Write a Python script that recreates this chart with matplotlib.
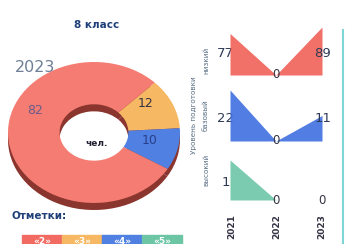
import matplotlib
matplotlib.use("Agg")
import matplotlib.pyplot as plt
from matplotlib.patches import Rectangle

# data
grade_title = "8 класс"
donut_year = "2023"
donut_values = [12, 10, 82]            # «3», «4», «2»
donut_colors = ["#f6b862", "#4f80e2", "#f47c72"]
years = [2021, 2022, 2023]
low_level = [77, 0, 89]
base_level = [22, 0, 11]
high_level = [1, 0, 0]
level_names = ["низкий", "базовый", "высокий"]
marks = ["«2»", "«3»", "«4»", "«5»"]
mark_colors = ["#f26b62", "#f6b862", "#4f80e2", "#6cc6a6"]

W, H = 346, 244
fig = plt.figure(figsize=(W / 100, H / 100), dpi=100)
fig.patch.set_facecolor("white")


def fx(x):
    return x / W


def fy(y):
    return 1 - y / H


navy = "#1f3f78"
gray = "#5a6f85"

fig.text(fx(97), fy(25), grade_title, ha="center", va="center",
         fontsize=7.5, fontweight="bold", color=navy)

# donut with a dark rim under it
ax = fig.add_axes([fx(8), fy(210), fx(172), (210 - 62) / H])
ax.pie(donut_values, colors=["#8a352d"] * 3, startangle=45, counterclock=False,
       radius=1, center=(0, -0.1), wedgeprops=dict(width=0.6, edgecolor="none"),
       frame=True)
ax.pie(donut_values, colors=donut_colors, startangle=45, counterclock=False,
       radius=1, center=(0, 0), wedgeprops=dict(width=0.6, edgecolor="none"),
       frame=True)
ax.set_xlim(-1, 1)
ax.set_ylim(-1.1, 1)
ax.set_aspect("auto")
ax.axis("off")

fig.text(fx(35), fy(68), donut_year, ha="center", va="center",
         fontsize=11.5, color="#6e7f95")
fig.text(fx(35), fy(110), str(donut_values[2]), ha="center", va="center",
         fontsize=9, color="#6a5a8c")
fig.text(fx(146), fy(103), str(donut_values[0]), ha="center", va="center",
         fontsize=9, color="#333344")
fig.text(fx(150), fy(140), str(donut_values[1]), ha="center", va="center",
         fontsize=9, color="#2a3f8a")
fig.text(fx(97), fy(143), "чел.", ha="center", va="center",
         fontsize=6.5, fontweight="bold", color="#222233")

# legend of marks
fig.text(fx(12), fy(216), "Отметки:", ha="left", va="center",
         fontsize=7.5, fontweight="bold", color=navy)
for i, (m, c) in enumerate(zip(marks, mark_colors)):
    x0 = 22 + i * 40
    fig.patches.append(Rectangle((fx(x0), fy(250)), fx(40), 15 / H,
                                 transform=fig.transFigure, color=c))
    fig.text(fx(x0 + 20), fy(241), m, ha="center", va="center",
             fontsize=6.5, fontweight="bold", color="white")

# rotated level labels
fig.text(fx(194), fy(115), "Уровень подготовки", rotation=90,
         ha="center", va="center", fontsize=5.2, color=gray)
for name, yc in zip(level_names, [60, 115, 170]):
    fig.text(fx(206), fy(yc), name, rotation=90, ha="center", va="center",
             fontsize=5.2, color=gray)

# small area charts
series = [(low_level, "#f06058", 75, 27), (base_level, "#3f6fe0", 141, 90),
          (high_level, "#6cc6a6", 200, 160)]
for vals, col, ybase, ytop in series:
    a = fig.add_axes([fx(230), fy(ybase), fx(92), (ybase - ytop) / H])
    a.fill_between(years, vals, 0, color=col, alpha=0.9, lw=0, zorder=3)
    a.set_xlim(years[0], years[-1])
    a.set_ylim(0, max(vals))
    a.axis("off")
    for yr, v in zip(years, vals):
        if v == 0:
            a.text(yr, 0, "0", ha="center", va="center", fontsize=8.5,
                   color="#333344", clip_on=False, zorder=4)
        elif yr == years[0]:
            a.text(yr - 0.1, max(vals) * 0.45, str(v), ha="center",
                   va="center", fontsize=9.5, color="#2e3a55", clip_on=False,
                   zorder=2)
        else:
            a.text(yr + 0.02, max(vals) * 0.45, str(v), ha="center",
                   va="center", fontsize=9.5, color="#2e3a55", clip_on=False,
                   zorder=4)

for yr, xc in zip(years, [232, 277, 322]):
    fig.text(fx(xc), fy(214), str(yr), rotation=90, ha="center", va="top",
             fontsize=6.5, fontweight="bold", color="#333344")

fig.lines.append(plt.Line2D([fx(343), fx(343)], [fy(30), fy(244)],
                            transform=fig.transFigure, color="#7fd6d6", lw=1.5))

fig.savefig("out.png", dpi=100)
